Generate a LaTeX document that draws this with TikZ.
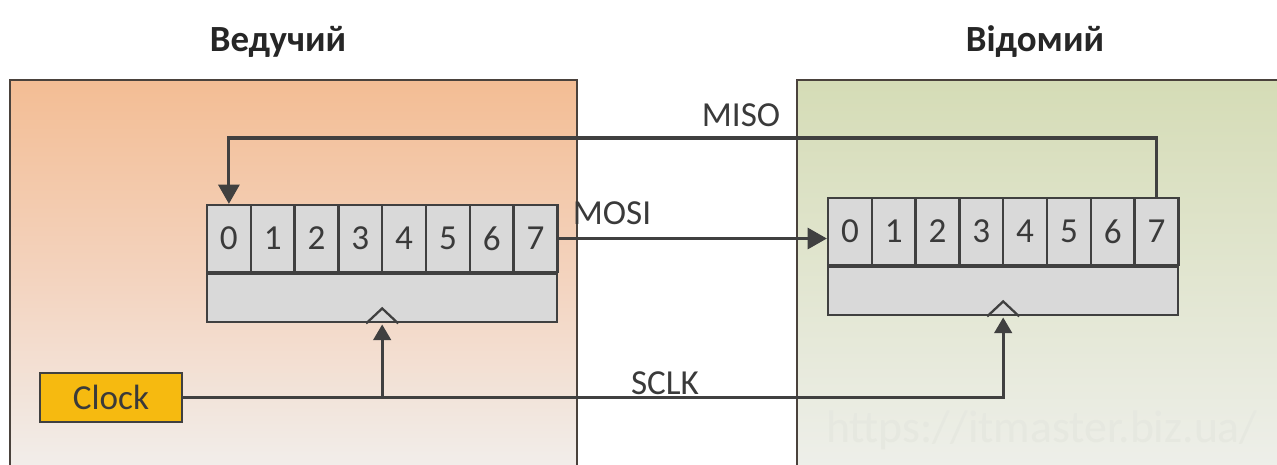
\documentclass[tikz,border=0pt]{standalone}
\usepackage{fontspec}
\setmainfont{Carlito}
\usepackage{xcolor}
\usetikzlibrary{arrows.meta,positioning,calc}
\definecolor{WireGrey}{HTML}{404040}
\definecolor{FrameGrey}{HTML}{4A423C}
\definecolor{CellGrey}{HTML}{D9D9D9}
\definecolor{MasterTop}{HTML}{F3BD94}
\definecolor{MasterMid}{HTML}{F3D3BE}
\definecolor{MasterBot}{HTML}{F2EEEB}
\definecolor{SlaveTop}{HTML}{D5DCB6}
\definecolor{SlaveBot}{HTML}{EEEFEA}
\definecolor{ClockGold}{HTML}{F6BA10}
\definecolor{LabelText}{HTML}{3A3A3A}
\definecolor{MarkText}{HTML}{E6E8E0}

\begin{document}
\begin{tikzpicture}[x=0.02cm,y=-0.02cm,
  panel/.style={draw=FrameGrey,line width=1.6pt},
  cell/.style={rectangle,draw=WireGrey,fill=CellGrey,line width=1.3pt,inner sep=0pt,
    minimum width=0.876cm,minimum height=1.34cm,font=\fontsize{20}{24}\selectfont,text=LabelText},
  base/.style={rectangle,draw=WireGrey,fill=CellGrey,line width=1.3pt,inner sep=0pt,
    minimum width=7.008cm,minimum height=0.96cm,anchor=north west},
  wire/.style={draw=WireGrey,line width=1.8pt},
  arrow/.style={wire,-{Triangle[length=11pt,width=12pt]}},
  clkarrow/.style={wire,-{Triangle[length=9pt,width=10pt]}},
  label/.style={font=\fontsize{20}{24}\selectfont,text=LabelText},
  title/.style={font=\fontsize{21}{25}\selectfont\bfseries,text=black!85}
]
\clip (0,0) rectangle (1277,464);
\fill[white] (0,0) rectangle (1277,464);

% panels
\shade[top color=MasterTop,bottom color=MasterBot,middle color=MasterMid] (10,80) rectangle (577,470);
\draw[panel] (10,470) -- (10,80) -- (577,80) -- (577,470);
\shade[top color=SlaveTop,bottom color=SlaveBot] (797,80) rectangle (1290,470);
\draw[panel] (797,470) -- (797,80) -- (1290,80);

\node[title] (master) at (278,42) {Ведучий};
\node[title] (slave) at (1035,42) {Відомий};

% shift registers
\foreach \i in {0,...,7} {
  \node[cell] (m\i) at ({207+21.9+43.8*\i},238.5) {\i};
  \node[cell] (s\i) at ({828+21.9+43.8*\i},231.5) {\i};
}
\node[base] (mreg) at (m0.south west) {};
\node[base] (sreg) at (s0.south west) {};

% clock inputs
\draw[wire,line width=1.3pt] ($(mreg.south)+(-16,0)$) -- ++(16,-15) -- ++(16,15);
\draw[wire,line width=1.3pt] ($(sreg.south)+(-16,0)$) -- ++(16,-15) -- ++(16,15);

\node[rectangle,draw=WireGrey,fill=ClockGold,line width=1.3pt,minimum width=2.84cm,
  minimum height=0.98cm,font=\fontsize{20}{24}\selectfont,text=LabelText] (clk) at (111,397.5) {Clock};

% lines
\coordinate (misoY) at (700,138);
\draw[arrow] (s7.north) -- (s7.north |- misoY) -| (m0.north);
\draw[arrow] (m7.east) -- (m7.east -| s0.west);
\draw[clkarrow] (clk.east) -- (clk.east -| sreg.south) -- ($(sreg.south)+(0,1)$);
\draw[clkarrow] (clk.east -| mreg.south) -- ($(mreg.south)+(0,1)$);

\node[label] (miso) at (741,115) {MISO};
\node[label] (mosi) at (612,213) {MOSI};
\node[label] (sclk) at (665,383) {SCLK};

\node[font=\fontsize{26}{30}\selectfont,text=MarkText] (mark) at (1042,430) {https://itmaster.biz.ua/};
\end{tikzpicture}
\end{document}
